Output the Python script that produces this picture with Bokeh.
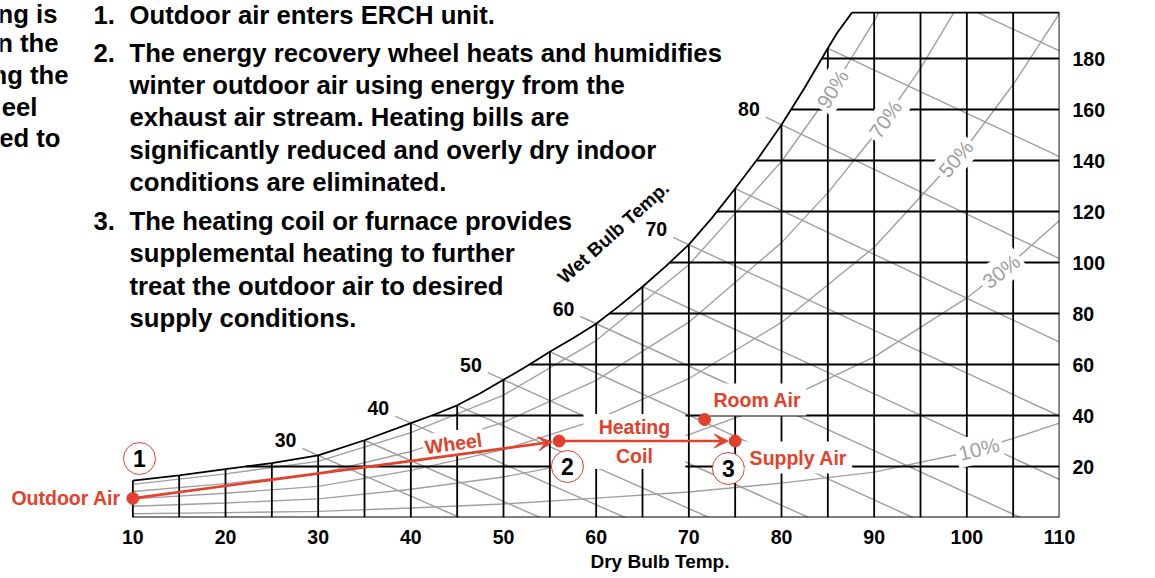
import math
import numpy as np
from bokeh.plotting import figure
from bokeh.models import Range1d, LinearAxis, FixedTicker, Arrow, VeeHead, Label, Title
from bokeh.embed import file_html
from bokeh.resources import INLINE
from bokeh.core.properties import value

# ---------------- data (dry bulb °F, specific humidity grains/lb) ----------------
x_ticks = [10, 20, 30, 40, 50, 60, 70, 80, 90, 100, 110]
y_ticks = [20, 40, 60, 80, 100, 120, 140, 160, 180]
chart_top = 198

sat_t = [10, 15, 20, 25, 30, 35, 40, 42.5, 45, 47.5, 50, 52.5, 55, 57.5, 60, 62.5,
         65, 67.5, 70, 72.5, 75, 77.5, 80, 82.5, 85, 86, 87.6]
sat_w = [14.5, 16.5, 19, 21.3, 24.4, 30.3, 37, 40.3, 44, 48.7, 54, 59.3, 65, 70.3, 76, 83,
         90.5, 98.5, 107, 117.5, 129, 141, 154, 168.5, 184, 190, 198]

rh90_t = [10, 20, 30, 40, 50, 60, 70, 80, 85, 90, 90.5]
rh90_w = [13.0, 17.1, 22.0, 33.3, 48.0, 69.4, 99.1, 139.6, 165.1, 194.7, 198]
rh70_t = [10, 20, 30, 40, 50, 60, 70, 80, 85, 90, 95, 98.6]
rh70_w = [10.2, 13.3, 17.1, 25.9, 37.3, 53.8, 76.6, 107.8, 127.3, 149.9, 176.1, 198]
rh50_t = [10, 20, 30, 40, 50, 60, 70, 80, 90, 100, 105, 110]
rh50_w = [7.3, 9.5, 12.2, 18.5, 26.6, 38.3, 54.5, 76.5, 106.0, 145.5, 169.8, 197.7]
rh30_t = [10, 20, 30, 40, 50, 60, 70, 80, 90, 100, 105, 110]
rh30_w = [4.4, 5.7, 7.3, 11.1, 15.9, 22.9, 32.5, 45.6, 63.0, 86.1, 100.3, 116.5]
rh10_t = [10, 20, 30, 40, 50, 60, 70, 80, 90, 100, 105, 110]
rh10_w = [1.45, 1.9, 2.4, 3.7, 5.3, 7.6, 10.0, 13.5, 17.8, 25.5, 31.0, 37.0]
rh_labels = ["90%", "70%", "50%", "30%", "10%"]
rh_label_t = [85.5, 91.2, 98.8, 103.7, 101.3]
rh_label_angle = [58, 55, 50, 38, 14]

wb_t = [30, 35, 40, 45, 50, 55, 60, 65, 70, 75, 80, 85, 90]
wb_w0 = [24.4, 30.3, 37, 44, 54, 65, 76, 90.5, 107, 129, 154, 184, 217]
wb_slope = [1.6, 1.6, 1.6, 1.62, 1.64, 1.66, 1.66, 1.68, 1.68, 1.72, 1.75, 1.7, 1.7]
wb_labels = [30, 40, 50, 60, 70, 80]

state_t = [10, 56, 75]          # outdoor air, after wheel, supply air
state_w = [7.5, 30, 30]
room_t = [71.7]
room_w = [38.4]

para = [
    ("1.", "Outdoor air enters ERCH unit."),
    ("2.", "The energy recovery wheel heats and humidifies"),
    ("", "winter outdoor air using energy from the"),
    ("", "exhaust air stream. Heating bills are"),
    ("", "significantly reduced and overly dry indoor"),
    ("", "conditions are eliminated."),
    ("3.", "The heating coil or furnace provides"),
    ("", "supplemental heating to further"),
    ("", "treat the outdoor air to desired"),
    ("", "supply conditions."),
]
para_mid = [14, 52, 84.3, 116.6, 149, 181.2, 220, 252.5, 285, 317.5]
frag_text = ["ng is", "n the", "ng the", "eel", "ed to"]
frag_right = [57, 58, 68, 37, 60]
frag_mid = [13, 42.7, 74.3, 106, 137.7]

# ---------------- styling helpers ----------------
RED = "#e2412b"
GRAY = "#a0a0a0"
FONT = value("Liberation Sans")
PXT = 9.268   # px per degree
PYW = 2.55    # px per grain


def tx(px):
    return 60 + (px - 595.76) / PXT


def wy(py):
    return (517 - py) / PYW


p = figure(width=1155, height=578, x_range=Range1d(tx(0), 110), y_range=Range1d(0, wy(0)),
           output_backend="svg", toolbar_location=None,
           x_axis_location=None, y_axis_location=None,
           min_border_left=0, min_border_top=0, min_border_right=96, min_border_bottom=61)
p.outline_line_color = None
p.background_fill_color = "white"
p.border_fill_color = "white"
p.grid.visible = False

xax = LinearAxis(ticker=FixedTicker(ticks=x_ticks))
yax = LinearAxis(ticker=FixedTicker(ticks=y_ticks))
for ax in (xax, yax):
    ax.axis_line_color = None
    ax.major_tick_line_color = None
    ax.minor_tick_line_color = None
    ax.major_tick_in = 0
    ax.major_tick_out = 0
    ax.major_label_text_font = "Liberation Sans"
    ax.major_label_text_font_style = "bold"
    ax.major_label_text_font_size = "19.5px"
    ax.major_label_text_color = "black"
xax.major_label_standoff = 12
yax.major_label_standoff = 13
p.add_layout(xax, "below")
p.add_layout(yax, "right")
p.add_layout(Title(text="Dry Bulb Temp.", align="left", offset=590, standoff=5,
                   text_font="Liberation Sans", text_font_style="bold", text_font_size="19px",
                   text_color="black"), "below")
p.add_layout(Label(x=tx(1131), y=wy(287), text="Specific Humidity", angle=math.pi / 2,
                   text_align="center", text_baseline="middle", text_font="Liberation Sans",
                   text_font_style="bold", text_font_size="19px", text_color="black"))

# ---- wet bulb lines (gray) ----
wxs, wys = [], []
for t0, w0, s in zip(wb_t, wb_w0, wb_slope):
    lead = 1.7 if t0 in wb_labels else 0.0
    ts, ws = t0 - lead, w0 + lead * s
    if ws > chart_top:
        ts, ws = t0 + (w0 - chart_top) / s, chart_top
    te, we = t0 + w0 / s, 0.0
    if te > 110:
        te, we = 110, w0 - s * (110 - t0)
    wxs.append([ts, te])
    wys.append([ws, we])
p.multi_line(wxs, wys, line_color=GRAY, line_width=1.4)

# ---- relative humidity curves ----
rh_t = [rh90_t, rh70_t, rh50_t, rh30_t, rh10_t]
rh_w = [rh90_w, rh70_w, rh50_w, rh30_w, rh10_w]
p.multi_line(rh_t, rh_w, line_color=GRAY, line_width=1.4)

# ---- black grid, clipped by saturation curve ----
gx, gy = [], []
for T in range(10, 111, 5):
    top = float(np.interp(T, sat_t, sat_w)) if T < sat_t[-1] else chart_top
    gx.append([T, T])
    gy.append([0, top])
for W in range(20, 181, 20):
    left = float(np.interp(W, sat_w, sat_t))
    gx.append([left, 110])
    gy.append([W, W])
gx.append([sat_t[-1], 110]); gy.append([chart_top, chart_top])
gx.append([10, 110]); gy.append([0, 0])
p.multi_line(gx, gy, line_color="black", line_width=1.8)
p.line(sat_t, sat_w, line_color="black", line_width=1.8)

# ---- wet bulb labels ----
lab_t, lab_w = [], []
for v in wb_labels:
    i = wb_t.index(v)
    lab_t.append(v - 1.7)
    lab_w.append(wb_w0[i] + 1.7 * wb_slope[i])
p.text(lab_t, lab_w, text=[str(v) for v in wb_labels], text_font=FONT, text_font_style="bold",
       text_font_size="19.5px", text_color="black", text_align="right", text_baseline="middle",
       x_offset=-6, y_offset=-8)
p.text([tx(613)], [wy(232)], text=["Wet Bulb Temp."], text_font=FONT, text_font_style="bold",
       text_font_size="19px", text_color="black", text_align="center", text_baseline="middle",
       angle=math.radians(42))

# ---- RH labels ----
rl_w = [float(np.interp(t, ct, cw)) for t, ct, cw in zip(rh_label_t, rh_t, rh_w)]
p.text(rh_label_t, rl_w, text=rh_labels, angle=[math.radians(a) for a in rh_label_angle],
       text_font=FONT, text_font_size="20.5px", text_color=GRAY, text_align="center",
       text_baseline="middle", background_fill_color="white", padding=3)

# ---- label masks / circles ----
p.rect(x=[tx(634)], y=[wy(441)], width=102, height=55, width_units="screen", height_units="screen",
       fill_color="white", line_color=None)
circ_t = [tx(139), tx(567), tx(728)]
circ_w = [wy(458), wy(466), wy(468)]
p.scatter(circ_t, circ_w, size=32, fill_color="white", line_color=RED, line_width=1)
p.text(circ_t, circ_w, text=["1", "2", "3"], text_font=FONT, text_font_style="bold",
       text_font_size="23px", text_color="black", text_align="center", text_baseline="middle")

# ---- process arrows ----
def tip(t0, w0, t1, w1, back):
    dx, dy = (t1 - t0) * PXT, (w1 - w0) * PYW
    L = math.hypot(dx, dy)
    return t1 - back * dx / L / PXT, w1 - back * dy / L / PYW


for i in range(2):
    xe, ye = tip(state_t[i], state_w[i], state_t[i + 1], state_w[i + 1], 7)
    p.add_layout(Arrow(end=VeeHead(size=14, fill_color=RED, line_color=RED, line_width=1),
                       x_start=state_t[i], y_start=state_w[i], x_end=xe, y_end=ye,
                       line_color=RED, line_width=2.6))
p.scatter(state_t + room_t, state_w + room_w, size=12, color=RED)

wheel_ang = math.atan2((state_w[1] - state_w[0]) * PYW, (state_t[1] - state_t[0]) * PXT)
red_kw = dict(text_font=FONT, text_font_style="bold", text_font_size="19.5px", text_color=RED,
              text_baseline="middle")
p.text([state_t[0]], [state_w[0]], text=["Outdoor Air"], text_align="right", x_offset=-12, **red_kw)
p.text([tx(453)], [wy(443)], text=["Wheel"], text_align="center", angle=wheel_ang,
       background_fill_color="white", padding=2, **red_kw)
p.text([tx(634), tx(634)], [wy(426), wy(455)], text=["Heating", "Coil"], text_align="center", **red_kw)
p.text([tx(757), tx(798)], [wy(399), wy(457)], text=["Room Air", "Supply Air"], text_align="center",
       background_fill_color="white", padding=5, **red_kw)

# ---- explanatory text ----
num_t, num_w, num_s, body_t, body_w, body_s = [], [], [], [], [], []
for (n, s), b in zip(para, para_mid):
    if n:
        num_t.append(tx(93)); num_w.append(wy(b)); num_s.append(n)
    body_t.append(tx(129)); body_w.append(wy(b)); body_s.append(s)
txt_kw = dict(text_font=FONT, text_font_style="bold", text_font_size="25.7px", text_color="black",
              text_baseline="middle")
p.text(num_t, num_w, text=num_s, text_align="left", **txt_kw)
p.text(body_t, body_w, text=body_s, text_align="left", **txt_kw)
p.text([tx(r) for r in frag_right], [wy(b) for b in frag_mid], text=frag_text, text_align="right", **txt_kw)

open("out.html", "w").write(file_html(p, INLINE))
